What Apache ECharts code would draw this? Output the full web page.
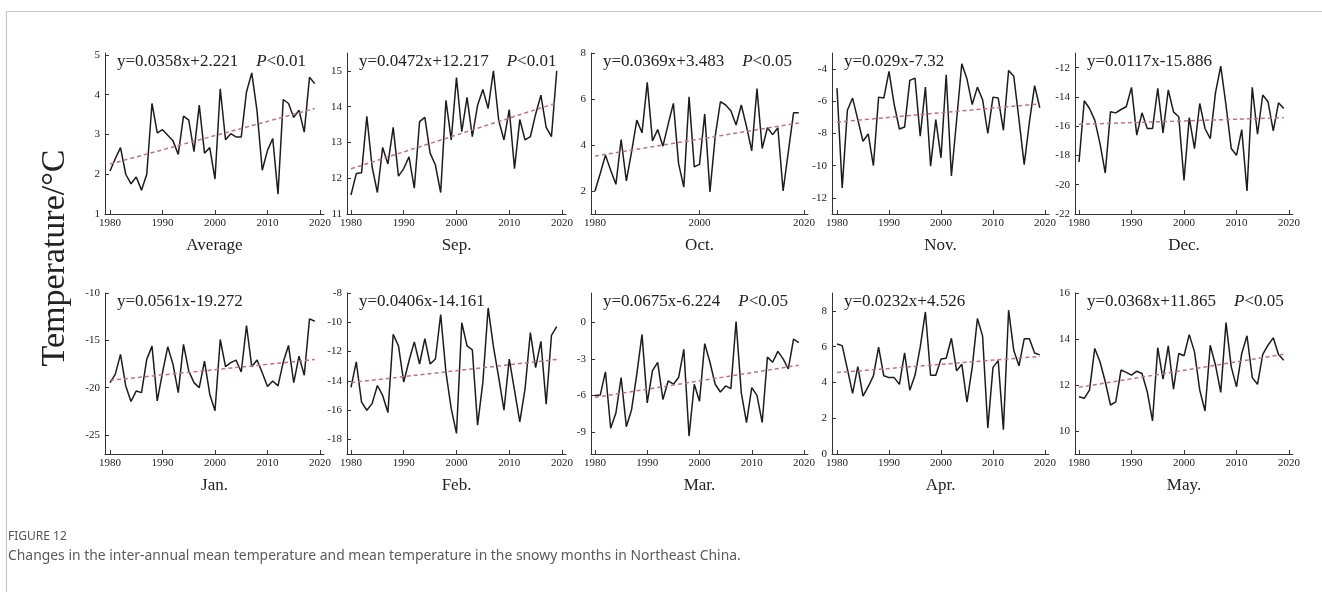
<!DOCTYPE html>
<html>
<head>
<meta charset="utf-8">
<script src="https://cdn.jsdelivr.net/npm/echarts@6/dist/echarts.min.js"></script>
<style>
html,body{margin:0;padding:0;background:#fff;}
#chart{width:1322px;height:592px;}
</style>
</head>
<body>
<div id="chart"></div>
<script>
// Years on the horizontal axis of every panel
const years = [1980,1981,1982,1983,1984,1985,1986,1987,1988,1989,
               1990,1991,1992,1993,1994,1995,1996,1997,1998,1999,
               2000,2001,2002,2003,2004,2005,2006,2007,2008,2009,
               2010,2011,2012,2013,2014,2015,2016,2017,2018,2019];

// Mean temperature (°C) per panel
const average = [2.08,2.39,2.67,2.0,1.76,1.93,1.6,2.0,3.78,3.04,
                 3.12,2.98,2.84,2.5,3.46,3.36,2.57,3.74,2.53,2.67,
                 1.88,4.15,2.87,3.02,2.94,2.94,4.07,4.55,3.6,2.1,
                 2.6,2.9,1.5,3.88,3.78,3.43,3.61,3.06,4.44,4.28];
const sep = [11.53,12.13,12.15,13.73,12.32,11.6,12.86,12.4,13.42,12.06,
             12.27,12.6,11.72,13.58,13.7,12.7,12.37,11.6,14.18,13.07,
             14.81,13.3,14.26,13.16,14.04,14.48,13.95,15.0,13.62,13.07,
             13.92,12.27,13.64,13.07,13.16,13.79,14.32,13.42,13.16,15.0];
const oct = [2.0,2.76,3.56,2.9,2.29,4.24,2.44,3.7,5.08,4.53,
             6.72,4.18,4.67,3.95,4.9,5.81,3.19,2.17,6.1,3.05,
             3.16,5.35,1.96,4.36,5.88,5.74,5.49,4.87,5.74,4.8,
             3.75,6.45,3.85,4.75,4.45,4.75,2.0,3.7,5.4,5.4];
const nov = [-5.18,-11.38,-6.56,-5.8,-7.14,-8.48,-8.03,-9.99,-5.74,-5.8,
             -4.14,-6.2,-7.72,-7.6,-4.7,-4.56,-8.17,-5.12,-10.03,-7.14,
             -9.51,-4.35,-10.64,-7.18,-3.67,-4.62,-6.2,-5.12,-5.9,-8.0,
             -5.74,-5.8,-7.8,-4.08,-4.45,-7.14,-9.93,-7.3,-5.03,-6.4];
const dec = [-18.45,-14.26,-14.79,-15.59,-17.19,-19.2,-15.02,-15.09,-14.86,-14.67,
             -13.35,-16.61,-15.09,-16.16,-16.16,-13.42,-16.46,-13.53,-15.02,-15.36,
             -19.7,-15.41,-17.53,-14.45,-16.16,-16.85,-13.71,-11.89,-14.56,-17.53,
             -17.99,-16.23,-20.43,-13.35,-16.55,-13.87,-14.33,-16.32,-14.4,-14.79];
const jan = [-19.46,-18.59,-16.48,-19.81,-21.46,-20.34,-20.52,-17.01,-15.61,-21.39,
             -18.41,-15.68,-17.54,-20.52,-15.43,-18.23,-19.46,-19.99,-17.19,-20.69,
             -22.44,-14.91,-17.78,-17.36,-17.08,-18.34,-13.43,-17.78,-17.08,-18.41,
             -19.88,-19.29,-19.81,-17.29,-15.54,-19.46,-16.66,-18.69,-12.73,-12.98];
const feb = [-14.45,-12.7,-15.45,-16.01,-15.56,-14.32,-15.0,-16.17,-10.82,-11.61,
             -14.09,-12.63,-11.34,-12.85,-11.12,-12.85,-12.51,-9.47,-13.42,-15.9,
             -17.59,-10.03,-11.61,-11.88,-17.03,-14.09,-9.02,-11.66,-13.76,-16.01,
             -12.51,-14.66,-16.8,-14.54,-10.7,-13.1,-11.3,-15.6,-10.9,-10.3];
const mar = [-6.0,-5.97,-4.06,-8.69,-7.44,-4.53,-8.56,-7.17,-4.25,-1.0,
             -6.61,-3.97,-3.28,-6.33,-4.81,-5.08,-4.53,-2.22,-9.33,-5.08,
             -6.47,-1.75,-3.28,-5.08,-5.72,-5.22,-5.44,0.06,-5.78,-8.22,
             -5.36,-6.0,-8.22,-2.86,-3.28,-2.39,-3.0,-3.83,-1.39,-1.67];
const apr = [6.15,6.06,4.74,3.39,4.89,3.24,3.76,4.37,5.97,4.37,
             4.27,4.27,3.89,5.65,3.57,4.4,5.97,7.94,4.4,4.4,
             5.31,5.35,6.47,4.65,5.02,2.9,4.84,7.57,6.59,1.45,
             4.84,5.22,1.36,8.04,5.78,4.93,6.44,6.44,5.65,5.54];
const may = [11.49,11.42,11.78,13.59,13.01,12.14,11.13,11.27,12.65,12.55,
             12.43,12.6,12.5,11.71,10.44,13.62,12.26,13.7,11.82,13.37,
             13.27,14.19,13.44,11.78,10.87,13.73,12.86,11.68,14.71,12.79,
             11.92,13.37,14.14,12.32,12.03,13.33,13.73,14.05,13.33,13.08];

// Panel names, linear trend coefficients (x = year index starting at 1) and significance
const panelNames = ['Average','Sep.','Oct.','Nov.','Dec.','Jan.','Feb.','Mar.','Apr.','May.'];
const slopes = [0.0358,0.0472,0.0369,0.029,0.0117,0.0561,0.0406,0.0675,0.0232,0.0368];
const intercepts = [2.221,12.217,3.483,-7.32,-15.886,-19.272,-14.161,-6.224,4.526,11.865];
const pValues = ['<0.01','<0.01','<0.05','','','','','<0.05','','<0.05'];

// Tick labels
const yTicks = [[1,2,3,4,5],[11,12,13,14,15],[2,4,6,8],[-12,-10,-8,-6,-4],
                [-22,-20,-18,-16,-14,-12],[-25,-20,-15,-10],[-18,-16,-14,-12,-10,-8],
                [-9,-6,-3,0],[0,2,4,6,8],[10,12,14,16]];
const xTicksDecade = [1980,1990,2000,2010,2020];
const xTicksOct = [1980,2000,2020];

const seriesValues = [average,sep,oct,nov,dec,jan,feb,mar,apr,may];

// Axis extents
const yMin = [1, 11, 1, -13, -22, -27, -19, -10.8, 0, 9];
const yMax = [5.05, 15.5, 8, -3, -11, -10, -8, 2.4, 9, 16];

// Layout (pixels): column positions of the y-axis line, year 1980 and year 2020; row top/bottom
const colAxis = [105, 347, 591, 832, 1075];
const col1980 = [110, 351, 595, 837, 1079];
const col2020 = [320, 562, 804, 1045, 1289];
const rowTop = [53, 293];
const rowBottom = [214, 454];

const SERIF = '"Liberation Serif","Times New Roman",serif';
const grids = [], xAxes = [], yAxes = [], series = [], titles = [], graphics = [];

panelNames.forEach((name, i) => {
  const col = i % 5, row = Math.floor(i / 5);
  const ax = colAxis[col], x0 = col1980[col], x1 = col2020[col];
  const k = (x1 - x0) / 40;
  const right = x1 + 4;
  const top = rowTop[row], bottom = rowBottom[row];
  grids.push({left: ax, top: top, width: right - ax, height: bottom - top, containLabel: false});

  const xt = (i === 2) ? xTicksOct : xTicksDecade;
  xAxes.push({
    type: 'value', gridIndex: i,
    min: 1980 - (x0 - ax) / k, max: 2020 + 4 / k,
    axisLine: {show: true, onZero: false, lineStyle: {color: '#333', width: 1}},
    axisTick: {show: true, inside: true, length: 4, customValues: xt, lineStyle: {color: '#333'}},
    axisLabel: {customValues: xt, margin: 4, fontFamily: SERIF, fontSize: 11, color: '#222',
                formatter: v => String(v)},
    splitLine: {show: false}
  });
  yAxes.push({
    type: 'value', gridIndex: i, min: yMin[i], max: yMax[i],
    axisLine: {show: true, onZero: false, lineStyle: {color: '#333', width: 1}},
    axisTick: {show: true, inside: true, length: 4, customValues: yTicks[i], lineStyle: {color: '#333'}},
    axisLabel: {customValues: yTicks[i], margin: 5, fontFamily: SERIF, fontSize: 11, color: '#222',
                formatter: v => String(v)},
    splitLine: {show: false}
  });

  series.push({
    type: 'line', xAxisIndex: i, yAxisIndex: i, showSymbol: false, symbol: 'none',
    data: years.map((y, j) => [y, seriesValues[i][j]]),
    lineStyle: {color: '#1c1c1c', width: 1.5}, z: 2, animation: false
  });
  const s = slopes[i], b = intercepts[i];
  series.push({
    type: 'line', xAxisIndex: i, yAxisIndex: i, showSymbol: false, symbol: 'none',
    data: [[years[0], s * 1 + b], [years[years.length - 1], s * years.length + b]],
    lineStyle: {color: '#c46f86', width: 1.5, type: [4, 3]}, z: 3, animation: false
  });

  const eq = 'y=' + s + 'x' + (b >= 0 ? '+' : '') + b;
  const txt = '{e|' + eq + '}' + (pValues[i] ? '{s|}{p|P}{e|' + pValues[i] + '}' : '');
  titles.push({
    text: txt, left: ax + 12, top: top, padding: 0,
    textStyle: {
      fontFamily: SERIF, fontSize: 17, fontWeight: 'normal', color: '#222',
      rich: {
        e: {fontFamily: SERIF, fontSize: 17, color: '#222'},
        s: {width: 18},
        p: {fontFamily: SERIF, fontSize: 17, fontStyle: 'italic', color: '#222'}
      }
    }
  });

  graphics.push({
    type: 'text', x: (ax + right) / 2, y: bottom + 32,
    style: {text: name, font: '17px ' + SERIF, fill: '#222',
            textAlign: 'center', textVerticalAlign: 'middle', align: 'center', verticalAlign: 'middle'}
  });
});

// Frame, shared axis title and caption
graphics.push({
  type: 'rect', shape: {x: 6.5, y: 11.5, width: 1400, height: 700},
  style: {fill: 'none', stroke: '#c6c6c6', lineWidth: 1.2}, silent: true
});
graphics.push({
  type: 'text', x: 55, y: 258, rotation: Math.PI / 2,
  style: {text: 'Temperature/°C', font: '34px ' + SERIF, fill: '#222',
          textAlign: 'center', textVerticalAlign: 'middle', align: 'center', verticalAlign: 'middle'}
});
graphics.push({
  type: 'text', x: 8, y: 537,
  style: {text: 'FIGURE 12', font: '12px "Noto Sans", sans-serif', fill: '#555',
          textVerticalAlign: 'middle', verticalAlign: 'middle'}
});
graphics.push({
  type: 'text', x: 8, y: 556,
  style: {text: 'Changes in the inter-annual mean temperature and mean temperature in the snowy months in Northeast China.',
          font: '13.9px "Noto Sans", sans-serif', fill: '#5a5a5a',
          textVerticalAlign: 'middle', verticalAlign: 'middle'}
});

const chart = echarts.init(document.getElementById('chart'), null, {renderer: 'canvas'});
chart.setOption({
  backgroundColor: '#fff',
  animation: false,
  title: titles,
  grid: grids,
  xAxis: xAxes,
  yAxis: yAxes,
  series: series,
  graphic: graphics
});
</script>
</body>
</html>
